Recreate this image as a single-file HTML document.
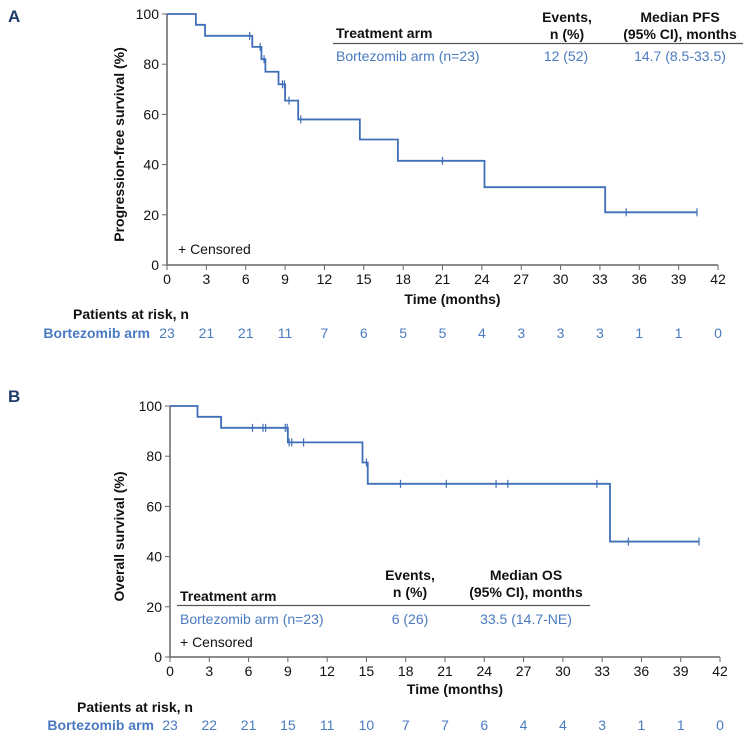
<!DOCTYPE html>
<html><head><meta charset="utf-8"><style>
body{margin:0;background:#fff}
svg{font-family:"Liberation Sans",Arial,sans-serif;display:block}
.t{font-size:14px;fill:#111}
.b{font-weight:bold}
.bl{fill:#4a7bc0}
</style></head><body>
<svg id="s" width="752" height="739">
<text x="8" y="22" font-size="17" font-weight="bold" fill="#1f3b6b">A</text>
<text x="8" y="402" font-size="17" font-weight="bold" fill="#1f3b6b">B</text>
<g id="gA"></g>
<g id="gB"></g>
<g>
<text class="t b" x="336" y="38" font-size="15.5">Treatment arm</text>
<text class="t b" x="567" y="22" text-anchor="middle" font-size="15.5">Events,</text>
<text class="t b" x="567" y="39" text-anchor="middle" font-size="15.5">n (%)</text>
<text class="t b" x="680" y="22" text-anchor="middle" font-size="15.5">Median PFS</text>
<text class="t b" x="680" y="39" text-anchor="middle" font-size="15.5">(95% CI), months</text>
<line x1="333" x2="743" y1="43.5" y2="43.5" stroke="#555" stroke-width="1.2"/>
<text class="t bl" x="336" y="61" font-size="15">Bortezomib arm (n=23)</text>
<text class="t bl" x="566" y="61" text-anchor="middle" font-size="15">12 (52)</text>
<text class="t bl" x="680" y="61" text-anchor="middle" font-size="15">14.7 (8.5-33.5)</text>
<text class="t" x="178" y="254" font-size="16">+ Censored</text>
</g>
<g>
<text class="t b" x="180" y="601" font-size="15.5">Treatment arm</text>
<text class="t b" x="410" y="580" text-anchor="middle" font-size="15.5">Events,</text>
<text class="t b" x="410" y="597" text-anchor="middle" font-size="15.5">n (%)</text>
<text class="t b" x="526" y="580" text-anchor="middle" font-size="15.5">Median OS</text>
<text class="t b" x="526" y="597" text-anchor="middle" font-size="15.5">(95% CI), months</text>
<line x1="177" x2="590" y1="605.5" y2="605.5" stroke="#555" stroke-width="1.2"/>
<text class="t bl" x="180" y="624" font-size="15">Bortezomib arm (n=23)</text>
<text class="t bl" x="410" y="624" text-anchor="middle" font-size="15">6 (26)</text>
<text class="t bl" x="526" y="624" text-anchor="middle" font-size="15">33.5 (14.7-NE)</text>
<text class="t" x="180" y="647" font-size="16">+ Censored</text>
</g>
</svg>
<script>
// PFS data
const pfsTimes=[0,2.2,2.9,6.5,7.2,7.5,8.5,9.0,10.0,14.7,17.6,24.2,33.4];
const pfsSurv=[100,95.7,91.3,86.9,82,77,72,65.5,58,50,41.5,31,21];
const pfsEnd=40.4;
const pfsCensT=[6.3,7.1,7.4,8.8,8.95,9.3,10.2,21,35,40.4];
const pfsRisk=[23,21,21,11,7,6,5,5,4,3,3,3,1,1,0];
// OS data
const osTimes=[0,2.1,3.9,9.0,14.7,15.1,33.6];
const osSurv=[100,95.7,91.3,85.5,77.5,69,46];
const osEnd=40.4;
const osCensT=[6.3,7.1,7.3,8.8,8.95,9.1,9.3,10.2,15.0,17.6,21.1,24.9,25.8,32.6,35,40.4];
const osRisk=[23,22,21,15,11,10,7,7,6,4,4,3,1,1,0];
const xTicks=[0,3,6,9,12,15,18,21,24,27,30,33,36,39,42];
const yTicks=[0,20,40,60,80,100];
const NS='http://www.w3.org/2000/svg';
function mk(p,tag,attrs){const e=document.createElementNS(NS,tag);for(const k in attrs)e.setAttribute(k,attrs[k]);p.appendChild(e);return e;}
function survAt(times,surv,t){let s=surv[0];for(let i=0;i<times.length;i++){if(times[i]<=t)s=surv[i];}return s;}
function panel(g,o){
  const X=t=>o.x0+t*o.kx, Y=v=>o.y0-v*o.ky;
  const ax=mk(g,'path',{d:`M${X(0)},${Y(100)}V${Y(0)}H${X(42)}`,fill:'none',stroke:'#666','stroke-width':1.5});
  
  
  yTicks.forEach(v=>{
    mk(g,'line',{x1:X(0)-5,x2:X(0),y1:Y(v),y2:Y(v),stroke:'#666'});
    const t=mk(g,'text',{x:X(0)-8,y:Y(v)+5,'text-anchor':'end',class:'t'});t.textContent=v;
    
    
  });
  xTicks.forEach((v,i)=>{
    mk(g,'line',{x1:X(v),x2:X(v),y1:Y(0),y2:Y(0)+5,stroke:'#666'});
    const t=mk(g,'text',{x:X(v),y:o.tickY,'text-anchor':'middle',class:'t'});t.textContent=v;
    
    
    const r=mk(g,'text',{x:X(v),y:o.riskY,'text-anchor':'middle',class:'t bl'});r.textContent=o.risk[i];
    
    
  });
  const yt=mk(g,'text',{x:0,y:0,transform:`translate(${o.ytx},${(Y(0)+Y(100))/2+5}) rotate(-90)`,'text-anchor':'middle',class:'t b','font-size':16});
  yt.textContent=o.ytitle;
  
  
  const xt=mk(g,'text',{x:(X(0)+X(42))/2+10,y:o.xtY,'text-anchor':'middle',class:'t b','font-size':15.5});
  xt.textContent='Time (months)';
  
  
  const pr=mk(g,'text',{x:o.parX,y:o.parY,class:'t b','font-size':15.5});pr.textContent='Patients at risk, n';
  
  
  const ba=mk(g,'text',{x:o.baX,y:o.riskY,'text-anchor':'end',class:'t b bl','font-size':16});ba.textContent='Bortezomib arm';
  
  
  let d=`M${X(o.times[0])},${Y(o.surv[0])}`;
  for(let i=1;i<o.times.length;i++){d+=`H${X(o.times[i])}V${Y(o.surv[i])}`;}
  d+=`H${X(o.end)}`;
  const c=mk(g,'path',{d,fill:'none',stroke:'#3f6fb8','stroke-width':1.8});
  
  
  o.cens.forEach(t=>{
    const y=Y(survAt(o.times,o.surv,t));
    const m=mk(g,'path',{d:`M${X(t)},${y-4}V${y+4}`,stroke:'#3f6fb8','stroke-width':1.2});
    
    
  });
}
panel(document.getElementById('gA'),{x0:167,kx:551/42,y0:265,ky:2.51,times:pfsTimes,surv:pfsSurv,end:pfsEnd,cens:pfsCensT,risk:pfsRisk,tickY:284,riskY:338,xtY:304,parX:73,parY:319,baX:150,ytx:124,ytitle:'Progression-free survival (%)'});
panel(document.getElementById('gB'),{x0:170,kx:550/42,y0:657,ky:2.51,times:osTimes,surv:osSurv,end:osEnd,cens:osCensT,risk:osRisk,tickY:676,riskY:730,xtY:694,parX:77,parY:712,baX:154,ytx:124,ytitle:'Overall survival (%)'});
</script>
</body></html>
